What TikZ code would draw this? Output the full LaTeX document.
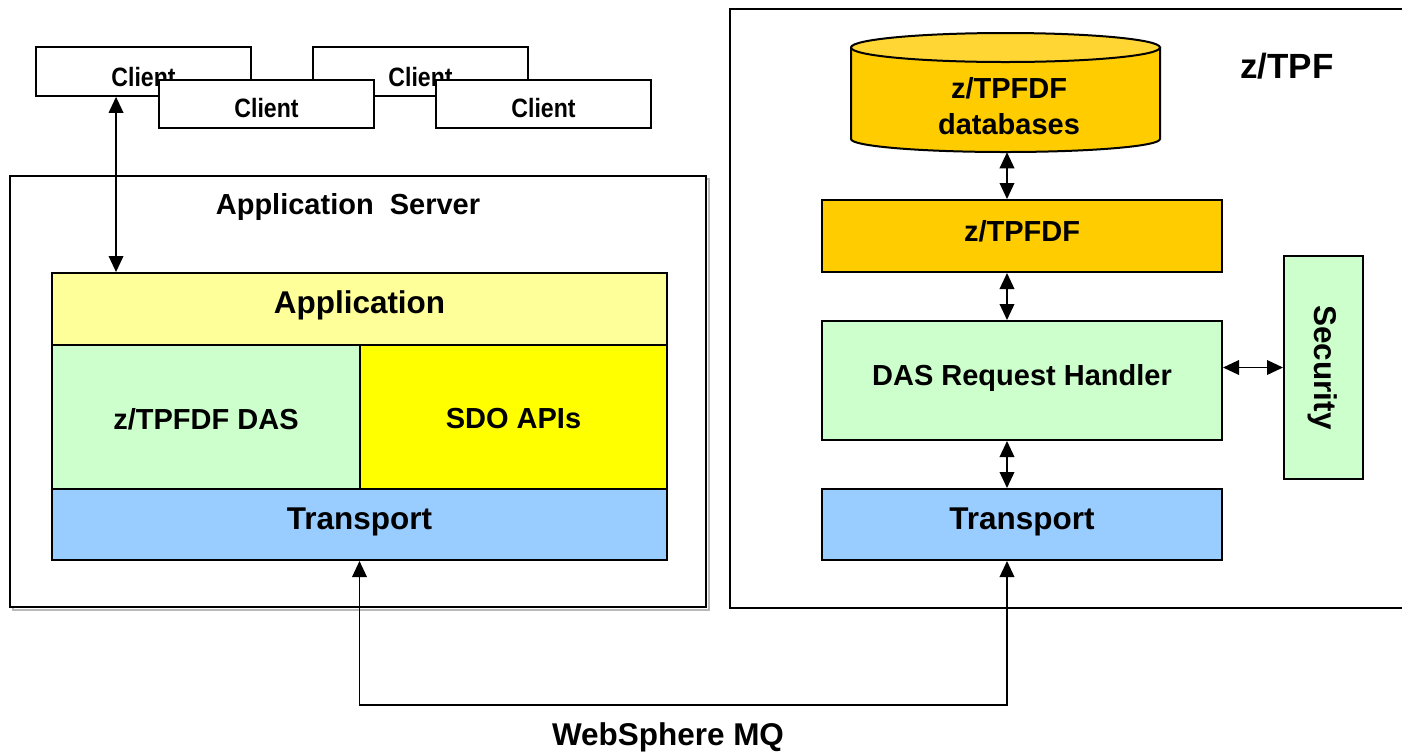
\documentclass[tikz,border=0pt]{standalone}
\usepackage{fontspec}
\setmainfont{Liberation Sans}
\newfontfamily\clientfont[FakeStretch=0.87]{Liberation Sans}
\usetikzlibrary{fit,arrows.meta}
\definecolor{appY}{HTML}{FFFF99}
\definecolor{dasG}{HTML}{CCFFCC}
\definecolor{sdoY}{HTML}{FFFF00}
\definecolor{trB}{HTML}{99CCFF}
\definecolor{fdfO}{HTML}{FFCC00}
\definecolor{fdfTop}{HTML}{FFD633}
\begin{document}
\begin{tikzpicture}[x=0.75pt,y=-0.75pt,
  box/.style={draw, line width=1.5pt, inner sep=0pt},
  bigtxt/.style={font=\bfseries\fontsize{23.6pt}{28pt}\selectfont},
  midtxt/.style={font=\bfseries\fontsize{21.75pt}{26.25pt}\selectfont},
  clitxt/.style={font=\clientfont\bfseries\fontsize{19.9pt}{22pt}\selectfont},
  clientbox/.style={draw, line width=1.3pt, inner sep=0pt, fill=white},
  frame/.style={draw, line width=1.5pt, inner sep=0pt},
  dbl/.style={line width=1.1pt, {Triangle[length=12pt,width=11pt]}-{Triangle[length=12pt,width=11pt]}}]
\useasboundingbox (0,0) rectangle (1402,751);

% Application server frame with faint shadow
\draw[gray!55, line width=1.5pt] (12.5,178.5) rectangle (708.5,609.5);
\node[frame, fill=white, fit={(10,176)(706,607)}] (as) {};
\node[midtxt] (astitle) at (348,207) {Application\ \ Server};

% z/TPF frame (open at right)
\draw[line width=1.5pt] (1402,9) -- (730,9) -- (730,608) -- (1402,608);
\node[font=\bfseries\fontsize{26.25pt}{31pt}\selectfont] (ztpf) at (1287,66) {z/TPF};

% Clients
\node[clientbox, fit={(36,47)(251,96)}] (c1) {};
\node[clientbox, fit={(313,47)(528,96)}] (c3) {};
\node[clitxt] (c1t) at (143.5,77) {Client};
\node[clitxt] (c3t) at (420.5,77) {Client};
\node[clientbox, fit={(159,80)(374,128)}] (c2) {};
\node[clientbox, fit={(436,80)(651,128)}] (c4) {};
\node[clitxt] (c2t) at (266.5,108) {Client};
\node[clitxt] (c4t) at (543.5,108) {Client};

% Left stack
\node[box, fill=appY, fit={(52,273)(667,345)}] (app) {};
\node[bigtxt] (appt) at (359.5,305) {Application};
\node[box, fill=dasG, fit={(52,345)(360,489)}] (das) {};
\node[midtxt] (dast) at (206,419) {z/TPFDF DAS};
\node[box, fill=sdoY, fit={(360,345)(667,489)}] (sdo) {};
\node[midtxt] (sdot) at (513.5,419) {SDO APIs};
\node[box, fill=trB, fit={(52,489)(667,560)}] (tr1) {};
\node[bigtxt] (tr1t) at (359.5,522) {Transport};

% Right stack: database cylinder
\filldraw[fill=fdfO, line width=1.5pt] (851,47.5) -- (851,139) arc[start angle=180, end angle=0, x radius=154.5, y radius=13] -- (1160,47.5) -- cycle;
\filldraw[fill=fdfTop, line width=1.5pt] (1005.5,47.5) ellipse[x radius=154.5, y radius=14.5];
\node[inner sep=0pt, fit={(853,33)(1161,152)}] (db) {};
\node[midtxt, align=center] (dbt) at (1009,106) {z/TPFDF\\[1pt]databases};

\node[box, fill=fdfO, fit={(822,200)(1222,272)}] (fdf) {};
\node[midtxt] (fdft) at (1022,231) {z/TPFDF};
\node[box, fill=dasG, fit={(822,321)(1222,440)}] (rh) {};
\node[midtxt] (rht) at (1022,378) {DAS Request Handler};
\node[box, fill=trB, fit={(822,489)(1222,560)}] (tr2) {};
\node[bigtxt] (tr2t) at (1022,522) {Transport};
\node[box, fill=dasG, fit={(1284,256)(1363,479)}] (sec) {};
\node[bigtxt, rotate=-90] (sect) at ([xshift=-1pt]sec.center) {Security};

% Connectors
\draw[dbl] ([xshift=-20.6pt]c1.south) -- ([xshift=-20.6pt]c1.south |- app.north);
\draw[dbl] (db.south) -- (db.south |- fdf.north);
\draw[dbl] (db.south |- fdf.south) -- (db.south |- rh.north);
\draw[dbl] (db.south |- rh.south) -- (db.south |- tr2.north);
\draw[dbl] (rh.east |- sec.west) -- (sec.west);
\coordinate (mqL) at (360,705);
\coordinate (mqR) at (1007,705);
\draw[dbl] (tr1.south) -- (tr1.south |- mqL) -- (db.south |- mqR) -- (db.south |- tr2.south);
\node[bigtxt] (mq) at (668,737) {WebSphere MQ};
\end{tikzpicture}
\end{document}
